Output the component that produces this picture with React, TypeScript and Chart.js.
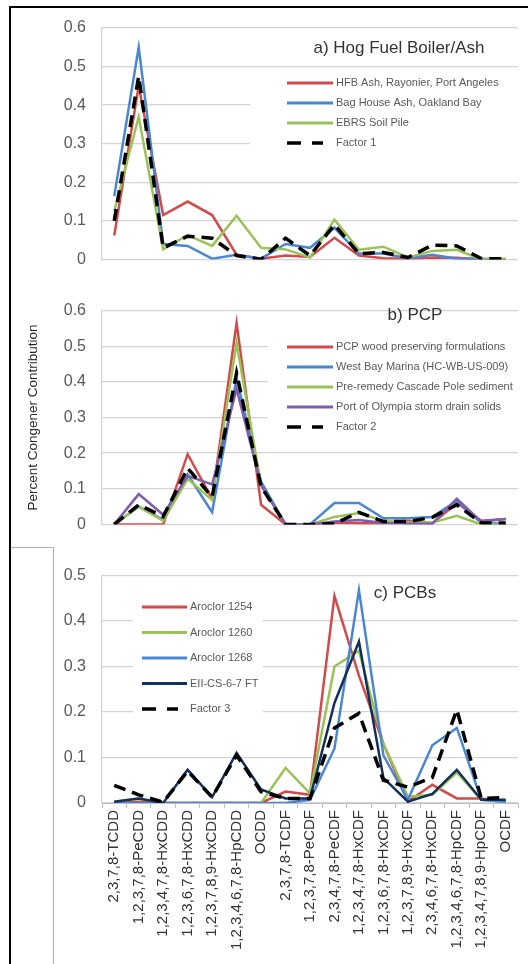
import React, { useEffect, useRef } from "react";
import { Chart, registerables } from "chart.js";
Chart.register(...registerables);

const categories = [
  "2,3,7,8-TCDD",
  "1,2,3,7,8-PeCDD",
  "1,2,3,4,7,8-HxCDD",
  "1,2,3,6,7,8-HxCDD",
  "1,2,3,7,8,9-HxCDD",
  "1,2,3,4,6,7,8-HpCDD",
  "OCDD",
  "2,3,7,8-TCDF",
  "1,2,3,7,8-PeCDF",
  "2,3,4,7,8-PeCDF",
  "1,2,3,4,7,8-HxCDF",
  "1,2,3,6,7,8-HxCDF",
  "1,2,3,7,8,9-HxCDF",
  "2,3,4,6,7,8-HxCDF",
  "1,2,3,4,6,7,8-HpCDF",
  "1,2,3,4,7,8,9-HpCDF",
  "OCDF",
];

// Panel a) Hog Fuel Boiler/Ash
const hfbAsh = [0.062, 0.45, 0.115, 0.15, 0.115, 0.012, 0.002, 0.01, 0.006, 0.056, 0.01, 0.003, 0.002, 0.005, 0.004, 0.0, 0.0];
const bagHouseAsh = [0.164, 0.55, 0.04, 0.035, 0.002, 0.012, 0.002, 0.04, 0.03, 0.082, 0.015, 0.015, 0.003, 0.012, 0.002, 0.002, 0.0];
const ebrsSoilPile = [0.125, 0.37, 0.026, 0.063, 0.035, 0.113, 0.03, 0.026, 0.005, 0.103, 0.025, 0.033, 0.005, 0.022, 0.025, 0.0, 0.002];
const factor1 = [0.1, 0.475, 0.03, 0.06, 0.055, 0.01, 0.0, 0.055, 0.01, 0.09, 0.015, 0.018, 0.005, 0.037, 0.035, 0.002, 0.002];

// Panel b) PCP
const pcpWood = [0.0, 0.0, 0.0, 0.197, 0.072, 0.565, 0.055, 0.0, 0.0, 0.005, 0.003, 0.003, 0.01, 0.003, 0.06, 0.01, 0.015];
const westBayMarina = [0.0, 0.05, 0.013, 0.14, 0.034, 0.41, 0.12, 0.0, 0.0, 0.06, 0.06, 0.017, 0.017, 0.021, 0.066, 0.004, 0.002];
const cascadePole = [0.0, 0.05, 0.01, 0.128, 0.068, 0.51, 0.11, 0.0, 0.0, 0.021, 0.032, 0.01, 0.005, 0.005, 0.024, 0.0, 0.0];
const portOlympia = [0.0, 0.085, 0.027, 0.136, 0.112, 0.38, 0.11, 0.0, 0.0, 0.008, 0.012, 0.004, 0.002, 0.002, 0.072, 0.008, 0.015];
const factor2 = [0.0, 0.055, 0.022, 0.158, 0.077, 0.425, 0.106, 0.0, 0.0, 0.002, 0.034, 0.008, 0.008, 0.02, 0.055, 0.004, 0.004];

// Panel c) PCBs
const aroclor1254 = [0.0, 0.003, 0.0, 0.0, 0.0, 0.0, 0.0, 0.025, 0.018, 0.455, 0.28, 0.13, 0.003, 0.04, 0.01, 0.01, 0.003];
const aroclor1260 = [0.003, 0.01, 0.0, 0.0, 0.0, 0.0, 0.0, 0.077, 0.021, 0.3, 0.335, 0.13, 0.014, 0.018, 0.067, 0.007, 0.003];
const aroclor1268 = [0.0, 0.0, 0.0, 0.0, 0.0, 0.0, 0.0, 0.0, 0.007, 0.12, 0.468, 0.105, 0.007, 0.127, 0.165, 0.007, 0.003];
const eiiCs67 = [0.003, 0.01, 0.0, 0.073, 0.013, 0.11, 0.03, 0.01, 0.01, 0.22, 0.355, 0.055, 0.003, 0.02, 0.073, 0.007, 0.007];
const factor3 = [0.039, 0.018, 0.002, 0.07, 0.013, 0.105, 0.025, 0.01, 0.01, 0.165, 0.197, 0.05, 0.035, 0.056, 0.205, 0.01, 0.012];

const yTicksAB = ["0", "0.1", "0.2", "0.3", "0.4", "0.5", "0.6"];
const yTicksC = ["0", "0.1", "0.2", "0.3", "0.4", "0.5"];

const RED = "#d24b4b";
const BLUE = "#4a86d2";
const GREEN = "#9bc257";
const PURPLE = "#7e5cae";
const NAVY = "#14305a";
const BLACK = "#000000";
const GRID = "#d4d4d4";

const FONT = "'Liberation Sans', Arial, sans-serif";

const solid = (label: string, data: number[], color: string, order: number) => ({
  label,
  data,
  borderColor: color,
  backgroundColor: color,
  borderWidth: 2.5,
  pointRadius: 0,
  tension: 0,
  fill: false,
  order,
});
const dashed = (label: string, data: number[]) => ({
  label,
  data,
  borderColor: BLACK,
  backgroundColor: BLACK,
  borderWidth: 3.5,
  borderDash: [12, 7],
  pointRadius: 0,
  tension: 0,
  fill: false,
  order: 0,
});

const decorPlugin = {
  id: "panelDecor",
  beforeDatasetsDraw(chart: any, _args: any, opts: any) {
    if (!opts || !opts.box) return;
    const ctx = chart.ctx;
    const b = opts.box;
    ctx.save();
    ctx.fillStyle = "#ffffff";
    ctx.fillRect(b[0], b[1], b[2] - b[0], b[3] - b[1]);
    ctx.restore();
  },
  afterDatasetsDraw(chart: any, _args: any, opts: any) {
    if (!opts) return;
    const ctx = chart.ctx;
    ctx.save();
    if (opts.title) {
      ctx.font = `17px ${FONT}`;
      ctx.fillStyle = "#333333";
      ctx.textAlign = "center";
      ctx.textBaseline = "middle";
      ctx.fillText(opts.title.text, opts.title.x, opts.title.y);
    }
    if (opts.legend) {
      const L = opts.legend;
      const order: number[] = L.order;
      order.forEach((di: number, row: number) => {
        const ds = chart.data.datasets[di];
        const y = L.y + row * L.rowH;
        const isDash = !!ds.borderDash;
        ctx.beginPath();
        ctx.strokeStyle = ds.borderColor;
        ctx.lineWidth = isDash ? 3.5 : 3;
        ctx.setLineDash(isDash ? [14, 11] : []);
        ctx.moveTo(L.x, y);
        ctx.lineTo(L.x + (isDash ? 36 : L.w), y);
        ctx.stroke();
        ctx.setLineDash([]);
        ctx.font = `11px ${FONT}`;
        ctx.fillStyle = "#595959";
        ctx.textAlign = "left";
        ctx.textBaseline = "middle";
        ctx.fillText(ds.label, L.x + L.w + L.gap, y);
      });
    }
    ctx.restore();
  },
};

function makeConfig(opts: {
  datasets: any[];
  yMax: number;
  yLabels: string[];
  padding: any;
  showX: boolean;
  decor: any;
  yTitle?: string;
}) {
  const showX = opts.showX;
  return {
    type: "line" as const,
    data: { labels: categories, datasets: opts.datasets },
    plugins: [decorPlugin],
    options: {
      responsive: false,
      animation: false as const,
      devicePixelRatio: 1,
      layout: { padding: opts.padding },
      plugins: {
        legend: { display: false },
        tooltip: { enabled: false },
        panelDecor: opts.decor,
      },
      scales: {
        x: {
          type: "category" as const,
          display: showX,
          offset: true,
          grid: {
            offset: true,
            drawOnChartArea: false,
            drawTicks: true,
            tickLength: 5,
            color: "#bfbfbf",
          },
          border: { display: true, color: "#bfbfbf" },
          ticks: {
            autoSkip: false,
            maxRotation: 90,
            minRotation: 90,
            padding: 2,
            color: "#333333",
            font: { family: FONT, size: 15 },
          },
          afterFit: (s: any) => {
            s.height = showX ? 161 : 0;
          },
        },
        y: {
          min: 0,
          max: opts.yMax,
          grid: { color: GRID, lineWidth: 1.3, drawTicks: false },
          border: { display: true, color: GRID, width: 1.3 },
          ticks: {
            stepSize: 0.1,
            autoSkip: false,
            padding: 16,
            color: "#595959",
            font: { family: FONT, size: 16 },
            callback: (_v: any, i: number) => opts.yLabels[i],
          },
          title: opts.yTitle
            ? {
                display: true,
                text: opts.yTitle,
                color: "#262626",
                font: { family: FONT, size: 13.5 },
                padding: { top: 25, bottom: 0 },
              }
            : { display: false },
          afterFit: (s: any) => {
            s.width = 102;
          },
        },
      },
    },
  };
}

function Panel(props: { top: number; height: number; config: any }) {
  const ref = useRef<HTMLCanvasElement | null>(null);
  useEffect(() => {
    if (!ref.current) return;
    const chart = new Chart(ref.current, props.config);
    return () => chart.destroy();
  }, []);
  return (
    <canvas
      ref={ref}
      width={528}
      height={props.height}
      style={{ position: "absolute", left: 0, top: props.top, width: 528, height: props.height }}
    />
  );
}

export default function App() {
  const configA = makeConfig({
    datasets: [
      solid("HFB Ash, Rayonier, Port Angeles", hfbAsh, RED, 3),
      solid("Bag House Ash, Oakland Bay", bagHouseAsh, BLUE, 2),
      solid("EBRS Soil Pile", ebrsSoilPile, GREEN, 1),
      dashed("Factor 1", factor1),
    ],
    yMax: 0.6,
    yLabels: yTicksAB,
    padding: { top: 28, right: 10, bottom: 23, left: 0 },
    showX: false,
    decor: {
      box: [250, 76, 518, 176],
      title: { text: "a) Hog Fuel Boiler/Ash", x: 399, y: 48 },
      legend: { x: 287, y: 83, rowH: 20, w: 46, gap: 3, order: [0, 1, 2, 3] },
    },
  });

  const configB = makeConfig({
    datasets: [
      solid("PCP wood preserving formulations", pcpWood, RED, 4),
      solid("West Bay Marina (HC-WB-US-009)", westBayMarina, BLUE, 3),
      solid("Pre-remedy Cascade Pole sediment", cascadePole, GREEN, 2),
      solid("Port of Olympia storm drain solids", portOlympia, PURPLE, 1),
      dashed("Factor 2", factor2),
    ],
    yMax: 0.6,
    yLabels: yTicksAB,
    padding: { top: 10, right: 10, bottom: 20, left: 0 },
    showX: false,
    yTitle: "Percent Congener Contribution",
    decor: {
      box: [268, 56, 518, 158],
      title: { text: "b) PCP", x: 415, y: 30 },
      legend: { x: 287, y: 62, rowH: 20, w: 46, gap: 3, order: [0, 1, 2, 3, 4] },
    },
  });

  const configC = makeConfig({
    datasets: [
      solid("Aroclor 1254", aroclor1254, RED, 4),
      solid("Aroclor 1260", aroclor1260, GREEN, 3),
      solid("Aroclor 1268", aroclor1268, BLUE, 2),
      solid("EII-CS-6-7 FT", eiiCs67, NAVY, 1),
      dashed("Factor 3", factor3),
    ],
    yMax: 0.5,
    yLabels: yTicksC,
    padding: { top: 17, right: 10, bottom: 0, left: 0 },
    showX: true,
    decor: {
      box: [133, 40, 263, 176],
      title: { text: "c) PCBs", x: 405, y: 43 },
      legend: { x: 142, y: 57, rowH: 25.5, w: 45, gap: 3, order: [0, 1, 2, 3, 4] },
    },
  });

  return (
    <div style={{ position: "absolute", left: 0, top: 0, width: 528, height: 964, background: "#ffffff", overflow: "hidden" }}>
      <Panel top={0} height={285} config={configA} />
      <Panel top={285} height={265} config={configB} />
      <Panel top={550} height={414} config={configC} />
      <div style={{ position: "absolute", left: 9, top: 6, width: 519, height: 2, background: "#000" }} />
      <div style={{ position: "absolute", left: 9, top: 6, width: 2, height: 958, background: "#000" }} />
      <div style={{ position: "absolute", left: 11, top: 547, width: 42, height: 1, background: "#b0b0b0" }} />
      <div style={{ position: "absolute", left: 53, top: 547, width: 1, height: 417, background: "#b0b0b0" }} />
    </div>
  );
}
